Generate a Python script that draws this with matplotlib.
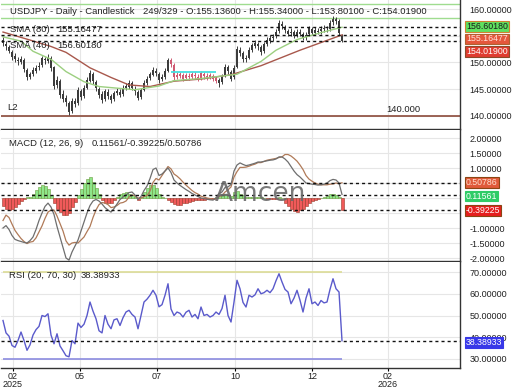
import matplotlib
matplotlib.use('Agg')
import matplotlib.pyplot as plt

plt.rcParams['font.family'] = ['Liberation Sans', 'DejaVu Sans']

# price candles (one bar per ~2 trading days)
opens = [154.2,153.5,152.9,152.0,151.2,150.5,150.1,150.5,148.6,147.3,
         147.9,148.5,149.1,149.5,150.7,150.3,150.8,149.1,145.8,146.6,
         144.1,143.3,142.4,141.0,142.7,142.4,144.6,143.7,145.3,146.6,
         147.8,146.4,145.1,144.1,143.2,144.5,143.7,143.1,144.3,144.5,
         144.1,145.3,145.5,146.1,145.1,144.5,143.5,144.9,146.1,147.1,
         147.7,148.5,147.9,146.9,147.3,148.5,150.4,149.6,147.3,147.5,
         147.7,147.1,147.5,147.3,147.7,147.3,147.1,147.9,147.5,147.3,
         147.5,147.1,146.7,146.3,147.5,149.1,148.3,147.2,149.2,152.4,
         151.7,150.7,150.9,152.3,153.1,153.5,152.9,152.1,153.5,154.1,
         154.5,154.9,155.9,157.3,156.7,155.9,155.5,155.7,155.1,155.7,
         155.3,154.7,155.3,156.3,155.5,155.9,155.9,156.3,156.3,156.3,
         157.5,158.1,157.8,155.136]
highs = [154.8,154.0,153.3,152.4,151.7,151.0,151.2,150.9,149.0,148.3,
         149.1,149.5,150.0,151.3,151.1,151.5,151.2,149.4,147.4,146.9,
         144.8,143.9,142.8,143.4,143.3,145.4,145.1,145.7,147.3,148.6,
         148.3,146.8,145.5,144.6,145.0,145.0,144.1,144.7,145.2,145.0,
         145.7,146.1,146.8,146.5,145.6,144.9,145.2,146.7,147.5,148.3,
         149.1,149.0,148.2,147.8,148.9,150.9,150.8,149.9,148.2,148.3,
         148.1,148.1,148.0,148.3,148.2,147.8,148.4,148.3,148.0,148.1,
         147.9,147.5,147.1,147.9,149.7,149.6,148.6,149.5,153.1,152.9,
         152.1,151.4,152.9,153.7,154.3,153.9,153.2,153.9,154.7,155.2,
         155.4,156.3,157.9,157.7,157.1,156.3,156.4,156.1,156.3,156.2,
         155.7,155.7,156.9,156.7,156.6,156.4,156.8,157.0,156.9,157.9,
         158.7,158.6,158.1,155.34]
lows = [153.1,152.4,151.7,150.5,150.0,149.6,149.8,148.3,146.8,146.9,
        147.5,148.1,148.6,149.2,149.8,149.9,148.5,145.0,145.2,143.4,
        142.6,141.8,140.1,140.6,141.6,142.1,143.0,143.3,145.0,146.3,
        146.0,144.7,143.4,142.4,142.8,143.2,142.5,142.8,143.9,143.5,
        143.8,144.9,145.1,144.8,144.0,142.9,143.2,144.6,145.8,146.7,
        147.4,147.5,146.2,146.5,147.0,148.2,149.2,146.8,146.9,147.1,
        146.6,146.8,146.7,146.9,146.9,146.5,146.8,146.9,146.7,146.9,
        146.5,146.1,145.5,146.0,147.2,147.9,146.6,146.9,148.9,151.2,
        150.1,150.0,150.6,151.9,152.7,152.4,151.4,151.8,153.1,153.7,
        154.1,154.6,155.6,156.2,155.5,154.9,155.0,154.6,154.8,154.9,
        154.2,154.3,155.0,155.2,155.2,155.3,155.4,155.8,155.7,155.9,
        157.1,157.3,155.2,153.801]
closes = [153.6,153.0,152.2,151.0,150.6,150.2,150.6,148.8,147.2,147.8,
          148.6,149.0,149.4,150.8,150.4,150.9,149.0,145.6,146.8,144.0,
          143.2,142.6,140.8,142.8,142.2,144.8,143.6,145.2,146.8,148.0,
          146.5,145.2,144.0,143.0,144.6,143.8,143.0,144.2,144.6,144.0,
          145.2,145.6,146.2,145.2,144.6,143.4,144.8,146.2,147.0,147.8,
          148.6,148.0,146.8,147.2,148.4,150.5,149.8,147.2,147.6,147.8,
          147.0,147.6,147.2,147.8,147.4,147.0,148.0,147.4,147.2,147.6,
          147.0,146.6,146.2,147.4,149.2,148.4,147.0,149.0,152.6,151.8,
          150.6,150.8,152.4,153.2,153.6,153.0,152.0,153.4,154.2,154.6,
          154.8,155.8,157.4,156.8,156.0,155.4,155.8,155.0,155.8,155.4,
          154.6,155.2,156.4,155.6,156.0,155.8,156.2,156.4,156.2,157.4,
          158.2,157.8,155.6,154.019]

sma40_bars = [0, 6, 10, 16, 21, 27, 32, 44, 52, 57, 66, 78, 86, 91, 98, 106, 113]
sma40 = [154.8, 154.0, 152.1, 150.6, 148.3, 146.4, 145.5, 144.9, 145.6, 146.6,
         147.0, 147.8, 150.2, 152.3, 154.3, 155.6, 156.6018]
sma80_bars = [0, 9, 16, 21, 29, 36, 42, 49, 57, 66, 76, 86, 99, 113]
sma80 = [155.7, 154.2, 153.0, 151.9, 149.0, 147.2, 145.8, 145.5, 146.5, 146.9,
         147.7, 149.4, 152.3, 155.16477]

macd = [-1.00,-0.92,-1.05,-1.25,-1.38,-1.42,-1.45,-1.48,-1.50,-1.42,
        -1.30,-1.05,-0.75,-0.50,-0.28,-0.17,-0.30,-0.55,-0.95,-1.30,
        -1.65,-2.00,-2.07,-1.80,-1.60,-1.40,-1.10,-0.80,-0.50,-0.25,
        -0.10,-0.05,-0.10,-0.20,-0.32,-0.40,-0.47,-0.35,-0.20,-0.05,
        0.03,0.10,0.18,0.20,0.10,-0.05,0.05,0.25,0.40,0.65,
        0.95,1.00,0.75,0.80,0.90,1.00,0.85,0.60,0.50,0.42,
        0.35,0.28,0.22,0.15,0.10,0.05,0.00,-0.02,-0.04,-0.06,
        -0.07,0.00,0.15,0.20,0.35,0.37,0.45,0.90,1.10,1.17,
        1.12,1.08,1.10,1.13,1.16,1.20,1.20,1.22,1.24,1.26,
        1.27,1.30,1.37,1.37,1.30,1.20,1.05,0.90,0.78,0.70,
        0.60,0.50,0.48,0.46,0.45,0.43,0.44,0.46,0.50,0.58,
        0.62,0.60,0.50,0.11561]
signal = [-0.75,-0.57,-0.65,-0.87,-1.08,-1.22,-1.35,-1.45,-1.52,-1.47,
          -1.45,-1.33,-1.13,-0.93,-0.68,-0.47,-0.40,-0.40,-0.60,-0.85,
          -1.10,-1.43,-1.57,-1.50,-1.48,-1.50,-1.40,-1.30,-1.12,-0.95,
          -0.65,-0.40,-0.22,-0.15,-0.17,-0.22,-0.32,-0.30,-0.25,-0.17,
          -0.15,-0.10,0.03,0.10,0.08,0.00,0.00,0.05,0.08,0.23,
          0.52,0.65,0.60,0.75,0.90,1.05,0.97,0.80,0.73,0.64,
          0.53,0.43,0.34,0.25,0.18,0.13,0.06,0.03,0.00,-0.02,
          -0.04,-0.02,0.05,0.08,0.20,0.27,0.37,0.70,0.88,1.02,
          1.02,1.03,1.06,1.10,1.13,1.18,1.18,1.22,1.26,1.28,
          1.30,1.32,1.35,1.37,1.45,1.45,1.40,1.32,1.23,1.10,
          0.95,0.75,0.63,0.56,0.50,0.46,0.44,0.44,0.44,0.46,
          0.47,0.50,0.48,0.50786]
hist = [-0.25,-0.35,-0.40,-0.38,-0.30,-0.20,-0.10,-0.03,0.02,0.05,
        0.15,0.28,0.38,0.43,0.40,0.30,0.10,-0.15,-0.35,-0.45,
        -0.55,-0.57,-0.50,-0.30,-0.12,0.10,0.30,0.50,0.62,0.70,
        0.55,0.35,0.12,-0.05,-0.15,-0.18,-0.15,-0.05,0.05,0.12,
        0.18,0.20,0.15,0.10,0.02,-0.05,0.05,0.20,0.32,0.42,
        0.43,0.35,0.15,0.05,0.00,-0.05,-0.12,-0.20,-0.23,-0.22,
        -0.18,-0.15,-0.12,-0.10,-0.08,-0.08,-0.06,-0.05,-0.04,-0.04,
        -0.03,0.02,0.10,0.12,0.15,0.10,0.08,0.20,0.22,0.15,
        0.10,0.05,0.04,0.03,0.03,0.02,0.02,0.00,-0.02,-0.02,
        -0.03,-0.02,0.02,0.00,-0.15,-0.25,-0.35,-0.42,-0.45,-0.40,
        -0.35,-0.25,-0.15,-0.10,-0.05,-0.03,0.00,0.02,0.06,0.12,
        0.15,0.10,0.02,-0.39225]
rsi = [47.7,42.0,40.5,36.2,35.4,38.5,42.4,38.5,34.0,36.5,
       41.0,43.5,45.0,50.0,49.5,50.8,41.0,37.0,41.6,36.0,
       33.8,31.5,31.0,38.5,37.0,46.5,44.5,46.0,50.0,56.2,
       52.0,48.5,43.0,42.0,50.0,46.0,43.9,48.0,48.5,45.4,
       49.0,51.6,52.4,50.5,49.3,43.9,50.0,56.2,57.5,59.3,
       61.6,59.3,54.0,55.0,59.3,64.6,53.0,50.0,51.6,51.0,
       49.3,51.5,52.4,49.3,50.5,48.5,53.9,50.0,50.5,49.3,
       50.0,51.6,50.5,53.2,59.3,50.0,47.0,56.2,66.2,62.3,
       56.0,53.9,59.3,58.5,59.5,62.3,60.0,60.5,61.6,60.5,
       62.3,66.0,69.2,65.4,62.0,60.8,55.4,58.0,61.6,57.0,
       51.6,58.0,62.3,55.4,56.2,54.6,56.9,55.8,56.2,62.0,
       66.9,62.3,60.8,38.38933]

tick_bars = [3.3, 25.7, 51.3, 77.3, 103.0, 128.3]
tick_labels = ['02\n2025', '05', '07', '10', '12', '02\n2026']

price_ticks = [140, 145, 150, 155, 160]
macd_ticks = [-2, -1.5, -1, -0.5, 0, 0.5, 1, 1.5, 2]
rsi_ticks = [30, 40, 50, 60, 70]
# tick values whose labels sit under the value boxes
hidden_ticks = [155, -0.5, 0, 0.5]

# highlighted range (cyan level + tinted candles)
hl_start, hl_end, hl_level = 56, 71, 148.3
l2_level = 140.0
top_levels = [160.9, 158.3]

W, H = 520.0, 390.0
fig = plt.figure(figsize=(5.2, 3.9), dpi=100)


def px_box(x0, y0, x1, y1):
    return [x0 / W, 1 - y1 / H, (x1 - x0) / W, (y1 - y0) / H]


def ftext(x, y, s, **kw):
    fig.text(x / W, 1 - y / H, s, va='center', ha='left', fontsize=6.8,
             color='#222222', **kw)


def fmt_ticks(ax, ticks):
    ax.set_yticks(ticks)
    ax.set_yticklabels(['' if v in hidden_ticks else '%.5f' % v for v in ticks])


ax1 = fig.add_axes(px_box(1, 0, 460, 129))
ax2 = fig.add_axes(px_box(1, 130, 460, 261), sharex=ax1)
ax3 = fig.add_axes(px_box(1, 262, 460, 368), sharex=ax1)

n = len(closes)
idx = list(range(n))
dash = (0, (2.2, 2.2))

for ax in (ax1, ax2, ax3):
    ax.set_xlim(-0.67, 152.33)
    ax.set_xticks(tick_bars)
    ax.grid(True, color='#e6e6e6', lw=0.8)
    ax.set_axisbelow(True)
    ax.yaxis.tick_right()
    ax.tick_params(axis='y', length=0, pad=7, labelsize=6.5, labelcolor='#222222')
    ax.tick_params(axis='x', length=0, labelbottom=False)
    ax.spines['left'].set_visible(False)
    ax.spines['top'].set_visible(False)
    for s in ('right', 'bottom'):
        ax.spines[s].set_color('#333333')
        ax.spines[s].set_linewidth(1.0)

# ---- price panel ----
ax1.set_ylim(137.55, 161.7)
fmt_ticks(ax1, price_ticks)
for lv in top_levels:
    ax1.axhline(lv, color='#9fdc8f', lw=1.0)
ax1.axhline(l2_level, color='#8b4a3a', lw=1.2)

cc = ['#cf5a72' if hl_start <= i <= hl_end else '#3c3c3c' for i in idx]
ax1.vlines(idx, lows, highs, colors=cc, lw=0.7)
body_b = [min(o, c) for o, c in zip(opens, closes)]
body_h = [max(abs(c - o), 0.08) for o, c in zip(opens, closes)]
ax1.bar(idx, body_h, bottom=body_b, width=0.55, color=cc, lw=0)
ax1.hlines(hl_level, hl_start, hl_end, color='#44e0e0', lw=1.3)

ax1.plot(sma80_bars, sma80, color='#a8584c', lw=1.0)
ax1.plot(sma40_bars, sma40, color='#9ccf80', lw=1.0)
for v in (sma40[-1], sma80[-1], closes[-1]):
    ax1.axhline(v, color='#111111', lw=1.0, ls=dash)


def right_label(ax, y, s, fc, tc, ec, dy=0):
    ax.annotate(s, xy=(1, y), xycoords=ax.get_yaxis_transform(),
                xytext=(6, -dy), textcoords='offset pixels', va='center',
                ha='left', fontsize=6.3, color=tc, annotation_clip=False,
                zorder=6, bbox=dict(boxstyle='square,pad=0.1', fc=fc, ec=ec, lw=0.8))


right_label(ax1, sma40[-1], '%.5f' % sma40[-1], '#5fe05f', '#1a1a1a', '#d08030', -1)
right_label(ax1, sma80[-1], '%.5f' % sma80[-1], '#e4573c', '#ffe2dc', '#b0602e', 4)
right_label(ax1, closes[-1], '%.5f' % closes[-1], '#e03c30', '#ffffff', '#8b4a2a', 10.5)

ftext(10, 12, 'USDJPY - Daily - Candlestick')
ftext(143, 12, '249/329 - O:%.5f - H:%.5f - L:%.5f - C:%.5f'
      % (opens[-1], highs[-1], lows[-1], closes[-1]))
ftext(10, 29, 'SMA (80)')
ftext(57, 29, '%.5f' % sma80[-1])
ftext(10, 46, 'SMA (40)')
ftext(57, 46, '%.5f' % sma40[-1])
ftext(7, 107, 'L2')
ftext(386, 110, '%.3f' % l2_level)

# ---- MACD panel ----
ax2.set_ylim(-2.1, 2.267)
fmt_ticks(ax2, macd_ticks)
hfc = ['#8ee68a' if h >= 0 else '#f05a5a' for h in hist]
hec = ['#6a9a3a' if h >= 0 else '#9a3a2a' for h in hist]
ax2.bar(idx, hist, width=1.0, color=hfc, edgecolor=hec, lw=0.4)
ax2.plot(idx, signal, color='#b07a58', lw=0.9)
ax2.plot(idx, macd, color='#6e6e6e', lw=0.9)
for v in (signal[-1], macd[-1], hist[-1]):
    ax2.axhline(v, color='#111111', lw=1.0, ls=dash)
right_label(ax2, signal[-1], '%.5f' % signal[-1], '#e05a3a', '#ffe0d0', '#8b4513')
right_label(ax2, macd[-1], '%.5f' % macd[-1], '#2fcc66', '#ffffff', '#2fcc66', 1.5)
right_label(ax2, hist[-1], '%.5f' % hist[-1], '#e51e1e', '#ffffff', '#8b4513', 1)
fig.text(260 / W, 1 - 194 / H, 'Amcen', fontsize=19, color='#6a6a6a',
         family='DejaVu Sans', ha='center', va='center', alpha=0.9)
ftext(9, 144, 'MACD (12, 26, 9)')
ftext(92, 144, '%.5f/%.5f/%.5f' % (macd[-1], hist[-1], signal[-1]))

# ---- RSI panel ----
ax3.set_ylim(25.86, 74.6)
fmt_ticks(ax3, rsi_ticks)
ax3.hlines(70, 0, n - 1, color='#dcdc96', lw=1.2)
ax3.hlines(30, 0, n - 1, color='#8c8ce0', lw=1.2)
ax3.plot(idx, rsi, color='#5a5acb', lw=1.0)
ax3.axhline(rsi[-1], color='#111111', lw=1.0, ls=dash)
right_label(ax3, rsi[-1], '%.5f' % rsi[-1], '#3838e8', '#ffffff', '#3838e8', 1.5)
ftext(9, 275, 'RSI (20, 70, 30)')
ftext(81, 275, '%.5f' % rsi[-1])

ax3.tick_params(axis='x', length=2, labelbottom=True, labelsize=6.5,
                pad=1, labelcolor='#222222')
ax3.set_xticklabels(tick_labels, linespacing=0.85)

fig.savefig('out.png', dpi=100, facecolor='white')
